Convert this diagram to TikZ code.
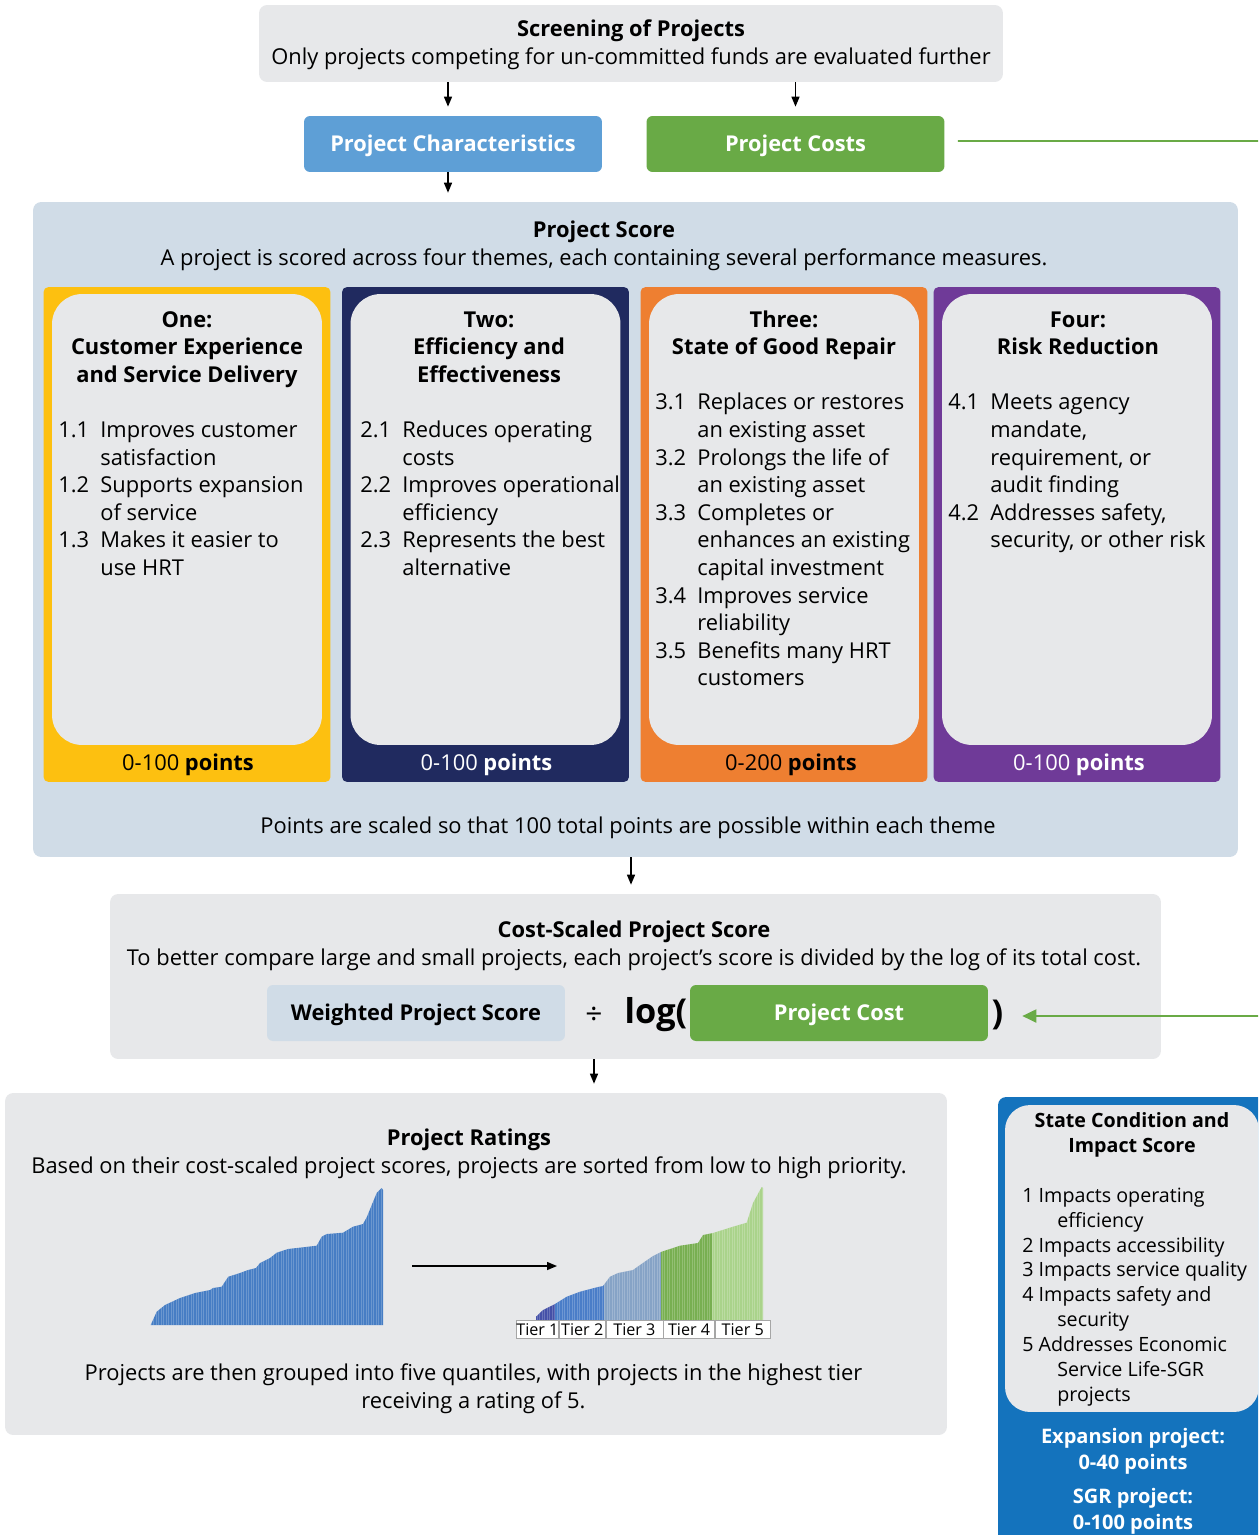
\documentclass[tikz,border=0pt]{standalone}
\usepackage{fontspec}
\setmainfont{Open Sans}
\usetikzlibrary{positioning,arrows.meta}

\definecolor{panelgrey}{HTML}{E7E8EA}
\definecolor{scoreblue}{HTML}{D0DCE7}
\definecolor{charblue}{HTML}{5E9FD6}
\definecolor{costgreen}{HTML}{69AA46}
\definecolor{themeone}{HTML}{FDC010}
\definecolor{themetwo}{HTML}{202A5F}
\definecolor{themethree}{HTML}{EE7F31}
\definecolor{themefour}{HTML}{6F3A98}
\definecolor{sgrblue}{HTML}{1473BD}
\definecolor{barblue}{HTML}{467DC4}
\definecolor{tierone}{HTML}{4450A8}
\definecolor{tiertwo}{HTML}{4A7DC8}
\definecolor{tierthree}{HTML}{86A3C6}
\definecolor{tierfour}{HTML}{78AF51}
\definecolor{tierfive}{HTML}{AAD38B}

\newcommand{\itm}[2]{\makebox[0.84cm][l]{#1}#2}
\newcommand{\cnt}[1]{\hspace*{0.84cm}#1}

\begin{document}
\begin{tikzpicture}[x=0.02cm, y=-0.02cm, every node/.style={inner sep=0pt},
	body/.style={font=\fontsize{12.45}{15.7}\selectfont, align=center, anchor=base},
	head/.style={font=\fontsize{12.45}{15.7}\selectfont\bfseries, align=center, anchor=base},
	list/.style={font=\fontsize{12.45}{15.7}\selectfont, align=left, anchor=base west},
	panel/.style={fill=panelgrey, rounded corners=0.16cm},
	button/.style={rounded corners=0.12cm, minimum width=5.96cm, minimum height=1.12cm, text=white, text height=8.9pt, text depth=0pt, font=\fontsize{12.4}{15}\selectfont\bfseries},
	theme/.style={rounded corners=0.1cm, minimum width=5.74cm, minimum height=9.9cm},
	inset/.style={fill=panelgrey, rounded corners=0.6cm, minimum width=5.4cm, minimum height=9.02cm, anchor=north, yshift=-0.14cm},
	arr/.style={line width=0.8pt, -{Triangle[length=0.2cm,width=0.16cm]}, shorten >=0.18cm},
	tier/.style={draw=gray!70, fill=white, minimum height=0.36cm, font=\fontsize{9.2}{10}\selectfont}]
	\path[use as bounding box, clip] (0,0) rectangle (1258,1535);

	\node[panel, minimum width=14.88cm, minimum height=1.54cm] (screen) at (631,43.5) {};
	\node[body] (screentext) at (631,64) {\textbf{Screening of Projects}\\Only projects competing for un-committed funds are evaluated further};
	\node[button, fill=charblue] (chars) at (453,144) {Project Characteristics};
	\node[button, fill=costgreen] (costs) at (795.5,144) {Project Costs};
	\draw[arr] ([xshift=-0.1cm]screen.south -| chars.north) -- ([xshift=-0.1cm]chars.north);
	\draw[arr] (screen.south -| costs.north) -- (costs.north);

	\node[fill=scoreblue, rounded corners=0.16cm, minimum width=24.1cm, minimum height=13.1cm] (score) at (635.5,529.5) {};
	\draw[arr] ([xshift=-0.1cm]chars.south) -- ([xshift=-0.1cm]chars.south |- score.north);
	\node[body] (scoretitle) at (604,265) {\textbf{Project Score}\\A project is scored across four themes, each containing several performance measures.};

	\node[theme, fill=themeone] (one) at (187,534.5) {};
	\node[theme, fill=themetwo] (two) at (485.5,534.5) {};
	\node[theme, fill=themethree] (three) at (784,534.5) {};
	\node[theme, fill=themefour] (four) at (1077,534.5) {};
	\node[inset] (onein) at (one.north) {};
	\node[inset] (twoin) at (two.north) {};
	\node[inset] (threein) at (three.north) {};
	\node[inset] (fourin) at (four.north) {};

	\node[head] (onehead) at (187,382.2) {One:\\Customer Experience\\and Service Delivery};
	\node[head] (twohead) at (489,382.2) {Two:\\Efficiency and\\Effectiveness};
	\node[head] (threehead) at (784,354.6) {Three:\\State of Good Repair};
	\node[head] (fourhead) at (1078,354.6) {Four:\\Risk Reduction};

	\node[list] (onelist) at (58,575.4) {\itm{1.1}{Improves customer}\\ \cnt{satisfaction}\\ \itm{1.2}{Supports expansion}\\ \cnt{of service}\\ \itm{1.3}{Makes it easier to}\\ \cnt{use HRT}};
	\node[list] (twolist) at (360,575.4) {\itm{2.1}{Reduces operating}\\ \cnt{costs}\\ \itm{2.2}{Improves operational}\\ \cnt{efficiency}\\ \itm{2.3}{Represents the best}\\ \cnt{alternative}};
	\node[list] (threelist) at (655,685.8) {\itm{3.1}{Replaces or restores}\\ \cnt{an existing asset}\\ \itm{3.2}{Prolongs the life of}\\ \cnt{an existing asset}\\ \itm{3.3}{Completes or}\\ \cnt{enhances an existing}\\ \cnt{capital investment}\\ \itm{3.4}{Improves service}\\ \cnt{reliability}\\ \itm{3.5}{Benefits many HRT}\\ \cnt{customers}};
	\node[list] (fourlist) at (948,547.8) {\itm{4.1}{Meets agency}\\ \cnt{mandate,}\\ \cnt{requirement, or}\\ \cnt{audit finding}\\ \itm{4.2}{Addresses safety,}\\ \cnt{security, or other risk}};

	\node[body] (onepts) at (188,770) {0-100 \textbf{points}};
	\node[body, text=white] (twopts) at (486.5,770) {0-100 \textbf{points}};
	\node[body] (threepts) at (791,770) {0-200 \textbf{points}};
	\node[body, text=white] (fourpts) at (1079,770) {0-100 \textbf{points}};

	\node[body] (scaled) at (628,833) {Points are scaled so that 100 total points are possible within each theme};

	\node[panel, minimum width=21.02cm, minimum height=3.3cm] (costscore) at (635.5,976.5) {};
	\draw[arr] (score.south -| 631,0) -- (costscore.north -| 631,0);
	\node[body] (costtitle) at (634,965) {\textbf{Cost-Scaled Project Score}\\To better compare large and small projects, each project’s score is divided by the log of its total cost.};
	\node[button, fill=scoreblue, text=black] (weighted) at (416,1013) {Weighted Project Score};
	\node[button, fill=costgreen] (pcost) at (839,1013) {Project Cost};
	\node[font=\fontsize{17}{18}\selectfont] (div) at (594,1016) {÷};
	\node[font=\fontsize{19.5}{22}\selectfont\bfseries, anchor=east] (log) at ([xshift=-0.04cm, yshift=-0.04cm]pcost.west) {log(};
	\node[font=\fontsize{19.5}{22}\selectfont\bfseries, right=0.06cm of pcost, yshift=-0.04cm] (close) {)};

	\node[panel, minimum width=18.84cm, minimum height=6.84cm] (ratings) at (476,1264) {};
	\draw[arr] (costscore.south -| div) -- (ratings.north -| div);
	\node[body] (ratetitle) at (469,1173) {\textbf{Project Ratings}\\Based on their cost-scaled project scores, projects are sorted from low to high priority.};
	\node[body] (ratefoot) at (473.5,1408) {Projects are then grouped into five quantiles, with projects in the highest tier\\receiving a rating of 5.};

	\begin{scope}
	\clip (150.7,1325) -- (156.7,1311.7) -- (165,1305) -- (180,1298) -- (195,1293) -- (210,1290) -- (213,1288) -- (221.7,1286.7) -- (228.3,1276.7) -- (240,1273) -- (248,1270) -- (256,1268) -- (260,1263) -- (270,1258) -- (276.7,1252.7) -- (288,1249) -- (316.7,1245.7) -- (321.7,1236.7) -- (326.7,1234) -- (343,1232.7) -- (353,1226.7) -- (363,1224) -- (367,1216.7) -- (371.7,1205) -- (376.7,1193) -- (381.7,1188) -- (383,1190) -- (383,1325) -- cycle;
	\fill[barblue] (148,1180) rectangle (385,1330);
	\foreach \x in {151,153.5,...,383}
		\draw[white, opacity=0.2, line width=0.4pt] (\x,1180) -- (\x,1330);
	\end{scope}

	\begin{scope}
	\clip (536,1320) -- (536,1316.7) -- (543,1310) -- (555,1304) -- (566.7,1296.7) -- (580,1291.7) -- (596.7,1287.3) -- (603,1286) -- (610,1276.7) -- (618,1273) -- (633,1270) -- (640,1265) -- (653,1256) -- (661.7,1251.7) -- (680,1245.7) -- (698,1243) -- (703,1235) -- (713,1233) -- (733,1226.7) -- (746.7,1222.7) -- (753,1203) -- (761.7,1187) -- (763,1188) -- (763,1320) -- cycle;
	\fill[tierone] (530,1180) rectangle (555,1330);
	\fill[tiertwo] (555,1180) rectangle (604,1330);
	\fill[tierthree] (604,1180) rectangle (661,1330);
	\fill[tierfour] (661,1180) rectangle (712,1330);
	\fill[tierfive] (712,1180) rectangle (770,1330);
	\foreach \x in {537,539.5,...,763}
		\draw[white, opacity=0.2, line width=0.4pt] (\x,1180) -- (\x,1330);
	\end{scope}

	\coordinate (sorted) at (412,1266);
	\coordinate (tiered) at (557,1266);
	\draw[line width=0.8pt, -{Triangle[length=0.2cm,width=0.16cm]}] (sorted) -- (tiered);

	\begin{scope}[node distance=0cm]
	\node[tier, minimum width=0.84cm, anchor=north west] (t1) at (516,1320) {Tier 1};
	\node[tier, minimum width=0.92cm, right=of t1] (t2) {Tier 2};
	\node[tier, minimum width=1.14cm, right=of t2] (t3) {Tier 3};
	\node[tier, minimum width=1.02cm, right=of t3] (t4) {Tier 4};
	\node[tier, minimum width=1.1cm, right=of t4] (t5) {Tier 5};
	\end{scope}

	\node[fill=sgrblue, rounded corners=0.16cm, minimum width=5.44cm, minimum height=9.06cm] (sgr) at (1134,1323.5) {};
	\node[fill=panelgrey, rounded corners=0.5cm, minimum width=5.08cm, minimum height=6.14cm] (sgrin) at (1132,1258.5) {};
	\node[align=center, font=\fontsize{11.2}{14.2}\selectfont\bfseries, anchor=base] (sgrhead) at (1132,1152) {State Condition and\\Impact Score};
	\node[align=left, font=\fontsize{11.2}{14.2}\selectfont, anchor=base west] (sgrlist) at (1022,1401.7) {1 Impacts operating\\ \hspace*{0.7cm}efficiency\\ 2 Impacts accessibility\\ 3 Impacts service quality\\ 4 Impacts safety and\\ \hspace*{0.7cm}security\\ 5 Addresses Economic\\ \hspace*{0.7cm}Service Life-SGR\\ \hspace*{0.7cm}projects};
	\node[align=center, text=white, font=\fontsize{11.4}{14.8}\selectfont\bfseries, anchor=base] (expand) at (1133,1469) {Expansion project:\\0-40 points};
	\node[align=center, text=white, font=\fontsize{11.4}{14.8}\selectfont\bfseries, anchor=base] (sgrpts) at (1133,1529) {SGR project:\\0-100 points};

	\coordinate (rim) at (1275,141);
	\draw[costgreen, line width=1.1pt, -{Triangle[length=0.28cm,width=0.26cm]}] ([xshift=0.26cm, yshift=0.06cm]costs.east) -- (rim) |- ([xshift=0.68cm, yshift=-0.06cm]pcost.east);
\end{tikzpicture}
\end{document}
